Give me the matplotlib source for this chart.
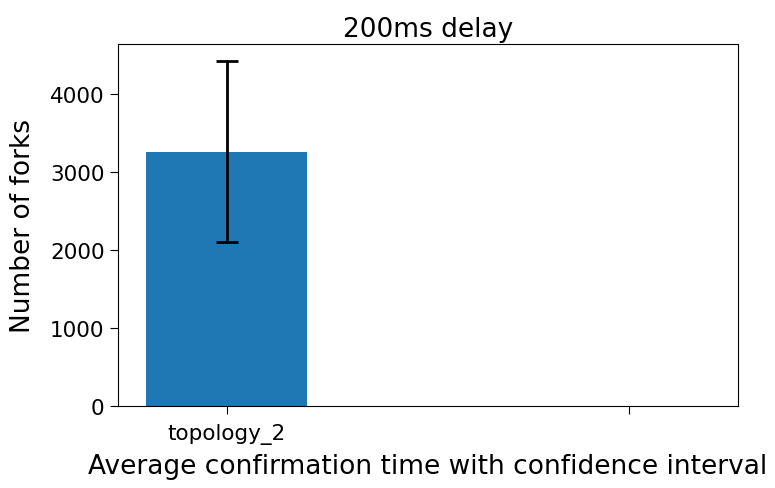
import matplotlib.pyplot as plt

# Topologies and fork counts (second slot empty, no error bar)
topologies = ['topology_2', '']
fork_means = [3256, 0]
fork_errors = [1160, float('nan')]

fig = plt.figure(figsize=(7.75, 4.89), dpi=100)
ax = fig.add_axes([0.152, 0.168, 0.8, 0.74])

x = range(len(topologies))
ax.bar(x, fork_means, width=0.4, yerr=fork_errors, capsize=8,
       color='#1f77b4', error_kw={'elinewidth': 2, 'capthick': 2})
ax.set_xticks(list(x))
ax.set_xticklabels(topologies)
ax.tick_params(labelsize=15.5, length=6)
ax.tick_params(axis='x', pad=6)
ax.set_xlabel('Average confirmation time with confidence interval', fontsize=19, labelpad=7)
ax.set_ylabel('Number of forks', fontsize=19, labelpad=10)
ax.set_title('200ms delay', fontsize=19)

fig.savefig('out.png')
